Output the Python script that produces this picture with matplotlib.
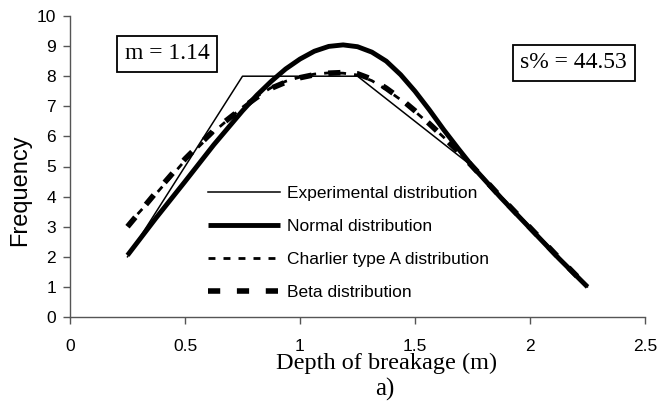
import matplotlib
matplotlib.use("Agg")
import matplotlib.pyplot as plt

# values
depth = [0.25, 0.375, 0.5, 0.625, 0.75, 0.8125, 0.875, 0.9375, 1.0, 1.0625,
         1.125, 1.1875, 1.25, 1.3125, 1.375, 1.4375, 1.5, 1.5625, 1.625,
         1.6875, 1.75, 1.875, 2.0, 2.125, 2.25]
normal = [2.05, 3.3, 4.5, 5.72, 6.85, 7.37, 7.83, 8.24, 8.57, 8.83,
          8.99, 9.04, 8.98, 8.8, 8.5, 8.05, 7.5, 6.88, 6.22,
          5.6, 5.0, 3.95, 2.95, 1.95, 1.0]
charlier = [3.05, 4.1, 5.2, 6.15, 6.97, 7.33, 7.62, 7.83, 7.97, 8.07,
            8.11, 8.1, 8.04, 7.85, 7.56, 7.22, 6.83, 6.41, 5.97,
            5.5, 5.02, 3.98, 2.98, 1.98, 1.02]
beta = [3.0, 4.15, 5.25, 6.2, 6.95, 7.3, 7.6, 7.8, 7.95, 8.05,
        8.1, 8.12, 8.08, 7.9, 7.6, 7.25, 6.85, 6.42, 5.97,
        5.5, 5.0, 3.97, 2.97, 1.97, 1.0]

exp_depth = [0.25, 0.75, 1.25, 1.75, 2.25]
experimental = [2, 8, 8, 5, 1]

SANS = "Liberation Sans"
SERIF = "Liberation Serif"

fig = plt.figure(figsize=(6.59, 4.08), dpi=100)
ax = fig.add_axes([70/659, 1 - 317/408, 575/659, 301/408])

ax.plot(exp_depth, experimental, color="black", lw=1.1, label="Experimental distribution")
ax.plot(depth, normal, color="black", lw=3.5, solid_capstyle="butt",
        solid_joinstyle="round", label="Normal distribution")
ax.plot(depth, charlier, color="black", lw=2.0, dashes=(2.5, 2.9),
        label="Charlier type A distribution")
ax.plot(depth, beta, color="black", lw=4.0, dashes=(2.2, 3.0), label="Beta distribution")

ax.set_xlim(0, 2.5)
ax.set_ylim(0, 10)
ax.set_xticks([0, 0.5, 1, 1.5, 2, 2.5])
ax.set_xticklabels(["0", "0.5", "1", "1.5", "2", "2.5"])
ax.set_yticks(range(0, 11))
for s in ["top", "right"]:
    ax.spines[s].set_visible(False)
for s in ["left", "bottom"]:
    ax.spines[s].set_color("#555555")
    ax.spines[s].set_linewidth(1.0)
ax.tick_params(axis="both", direction="out", length=5, width=1, color="#555555",
               labelsize=12.5)
ax.tick_params(axis="x", pad=11)
ax.tick_params(axis="y", pad=5)
for lab in ax.get_xticklabels() + ax.get_yticklabels():
    lab.set_fontfamily(SANS)

ax.set_ylabel("Frequency", fontsize=17, fontfamily=SANS)
ax.yaxis.set_label_coords(-0.068, 0.42)
ax.set_xlabel("Depth of breakage (m)", fontsize=17.5, fontfamily=SERIF)
ax.xaxis.set_label_coords(0.55, -0.12)

box = dict(boxstyle="square,pad=0.33", facecolor="white", edgecolor="black", linewidth=1.3)
ax.text(0.422, 8.74, "m = 1.14", fontsize=17, fontfamily=SERIF,
        ha="center", va="center", bbox=box)
ax.text(2.19, 8.44, "s% = 44.53", fontsize=17, fontfamily=SERIF,
        ha="center", va="center", bbox=box)

leg = ax.legend(loc="upper left", bbox_to_anchor=((208 - 70)/575, (317 - 186)/301),
                frameon=False, prop={"family": SANS, "size": 12.5},
                handlelength=4.15, handletextpad=0.4, labelspacing=1.02,
                borderpad=0, borderaxespad=0)

fig.text(385/659, 1 - 389/408, "a)", fontsize=18, fontfamily=SERIF,
         ha="center", va="center")

fig.savefig("out.png", dpi=100)
